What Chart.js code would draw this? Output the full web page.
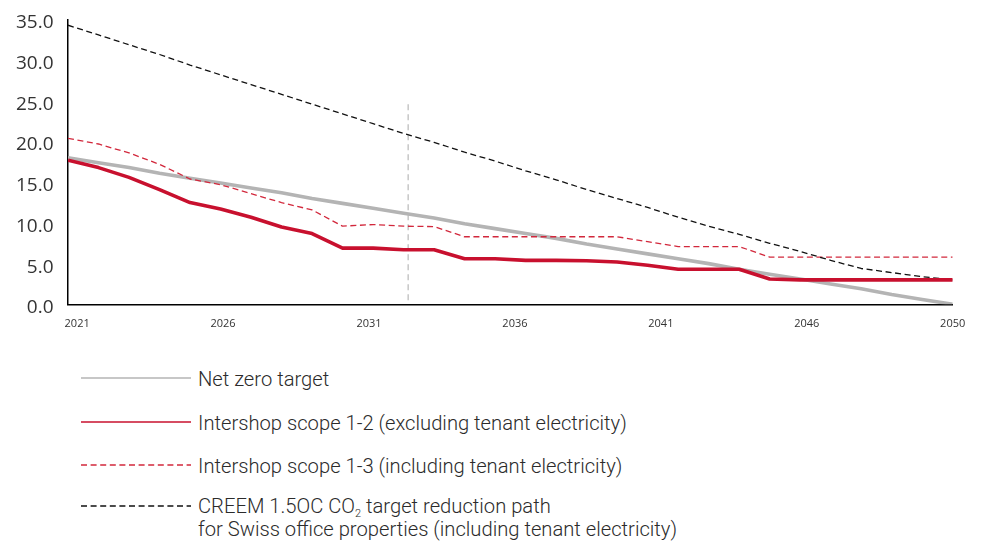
<!DOCTYPE html>
<html>
<head>
<meta charset="utf-8">
<script src="https://cdn.jsdelivr.net/npm/chart.js@4.4.1/dist/chart.umd.min.js"></script>
<style>
  body{margin:0;background:#fff;}
  #wrap{position:relative;width:982px;height:545px;overflow:hidden;}
  #chart{position:absolute;left:0;top:0;}
  .row{position:absolute;left:81px;height:24px;font-family:Roboto,"Open Sans",sans-serif;font-weight:300;font-size:20.2px;color:#2b2b2b;}
  .row svg{position:absolute;left:0;top:10px;}
  .row span{position:absolute;left:117px;top:1px;line-height:24px;white-space:nowrap;}
  .row sub{font-size:11px;vertical-align:-4px;line-height:0;}
</style>
</head>
<body>
<div id="wrap">
  <canvas id="chart" width="982" height="345"></canvas>
  <div class="row" style="top:366px">
    <svg width="110" height="4"><line x1="0" y1="2" x2="110" y2="2" stroke="#b4b4b4" stroke-width="1.4"/></svg>
    <span>Net zero target</span>
  </div>
  <div class="row" style="top:410px">
    <svg width="110" height="4"><line x1="0" y1="2" x2="110" y2="2" stroke="#c8102e" stroke-width="1.4"/></svg>
    <span>Intershop scope 1-2 (excluding tenant electricity)</span>
  </div>
  <div class="row" style="top:453px">
    <svg width="110" height="4"><line x1="0" y1="2" x2="110" y2="2" stroke="#d2283c" stroke-width="1.4" stroke-dasharray="6 3.6"/></svg>
    <span>Intershop scope 1-3 (including tenant electricity)</span>
  </div>
  <div class="row" style="top:494px">
    <svg width="110" height="4"><line x1="0" y1="2" x2="110" y2="2" stroke="#111" stroke-width="1.4" stroke-dasharray="6 3.6"/></svg>
    <span style="line-height:23.3px">CREEM 1.5OC CO<sub>2</sub> target reduction path<br>for Swiss office properties (including tenant electricity)</span>
  </div>
</div>
<script>
// jahre 2021-2050, werte in kg CO2e/m2
const years = [2021,2022,2023,2024,2025,2026,2027,2028,2029,2030,2031,2032,2033,2034,2035,
               2036,2037,2038,2039,2040,2041,2042,2043,2044,2045,2046,2047,2048,2049,2050];
const netZero = [18.0,17.4,16.8,16.1,15.5,14.9,14.3,13.7,13.0,12.4,11.8,11.2,10.6,9.9,9.3,
                 8.7,8.1,7.4,6.8,6.2,5.6,5.0,4.3,3.7,3.1,2.5,1.9,1.2,0.6,0.0];
const scope12 = [17.7,16.8,15.6,14.1,12.5,11.7,10.7,9.5,8.7,6.9,6.9,6.7,6.7,5.6,5.6,
                 5.4,5.4,5.35,5.2,4.8,4.3,4.3,4.3,3.1,3.0,3.0,3.0,3.0,3.0,3.0];
const scope13 = [20.4,19.7,18.6,17.2,15.4,14.7,13.6,12.5,11.6,9.6,9.8,9.6,9.55,8.3,8.3,
                 8.3,8.3,8.3,8.3,7.7,7.1,7.1,7.1,5.8,5.8,5.8,5.8,5.8,5.8,5.8];
const creem = [34.3,33.1,31.9,30.7,29.4,28.2,27.0,25.8,24.6,23.4,22.2,21.0,19.9,18.7,17.6,
               16.4,15.3,14.1,13.0,11.9,10.7,9.6,8.6,7.5,6.5,5.4,4.4,3.9,3.4,3.0];
const markerYear = 2032.15;
const markerRange = [0.5, 24.9];
const xTickLabels = ['2021','2026','2031','2036','2041','2046','2050'];
const yMax = 35, yStep = 5;

const pts = arr => arr.map((v,i)=>({x:years[i], y:v}));
const xMin = years[0], xMax = years[years.length-1];

new Chart(document.getElementById('chart'), {
  type:'line',
  data:{ datasets:[
    { label:'Intershop scope 1-2 (excluding tenant electricity)', data:pts(scope12), borderColor:'#c8102e', borderWidth:3.6, order:0 },
    { label:'CREEM 1.5OC CO2 target reduction path', data:pts(creem), borderColor:'#111', borderWidth:1.3, borderDash:[6,3.6], order:1 },
    { label:'Intershop scope 1-3 (including tenant electricity)', data:pts(scope13), borderColor:'#d2283c', borderWidth:1.3, borderDash:[6,3.6], order:2 },
    { label:'Net zero target', data:pts(netZero), borderColor:'#b4b4b4', borderWidth:3.6, order:3 },
    { label:'marker', data:markerRange.map(v=>({x:markerYear, y:v})), borderColor:'#b8b8b8', borderWidth:1.2, borderDash:[6,4], order:4 }
  ]},
  options:{
    responsive:false, animation:false,
    layout:{ padding:{ top:19.5, right:29.3, left:0, bottom:0 } },
    elements:{ point:{ radius:0 }, line:{ tension:0, borderJoinStyle:'round', borderCapStyle:'butt', fill:false } },
    plugins:{ legend:{ display:false }, tooltip:{ enabled:false } },
    scales:{
      x:{
        type:'linear', min:xMin, max:xMax,
        grid:{ display:false, drawTicks:false },
        border:{ color:'#000', width:1.5 },
        afterBuildTicks(scale){
          // beschriftung gleichmaessig verteilt wie im original
          const start = xMin + 0.3, n = xTickLabels.length;
          scale.ticks = xTickLabels.map((l,i)=>({ value: start + i*(xMax-start)/(n-1) }));
        },
        afterFit(scale){ scale.height = 345 - 304.3; scale.paddingLeft = 0; scale.paddingRight = 0; },
        ticks:{ autoSkip:false, maxRotation:0, padding:13, color:'#333',
                font:{ family:'"Open Sans"', size:11 },
                callback:(v,i)=>xTickLabels[i] }
      },
      y:{
        min:0, max:yMax,
        grid:{ display:false, drawTicks:false },
        border:{ color:'#000', width:1.5 },
        afterFit(scale){ scale.width = 68; scale.paddingTop = 0; scale.paddingBottom = 0; },
        ticks:{ stepSize:yStep, padding:14.5, labelOffset:3.5, color:'#333',
                font:{ family:'"Open Sans"', size:19 },
                callback:v=>v.toFixed(1) }
      }
    }
  }
});
</script>
</body>
</html>
